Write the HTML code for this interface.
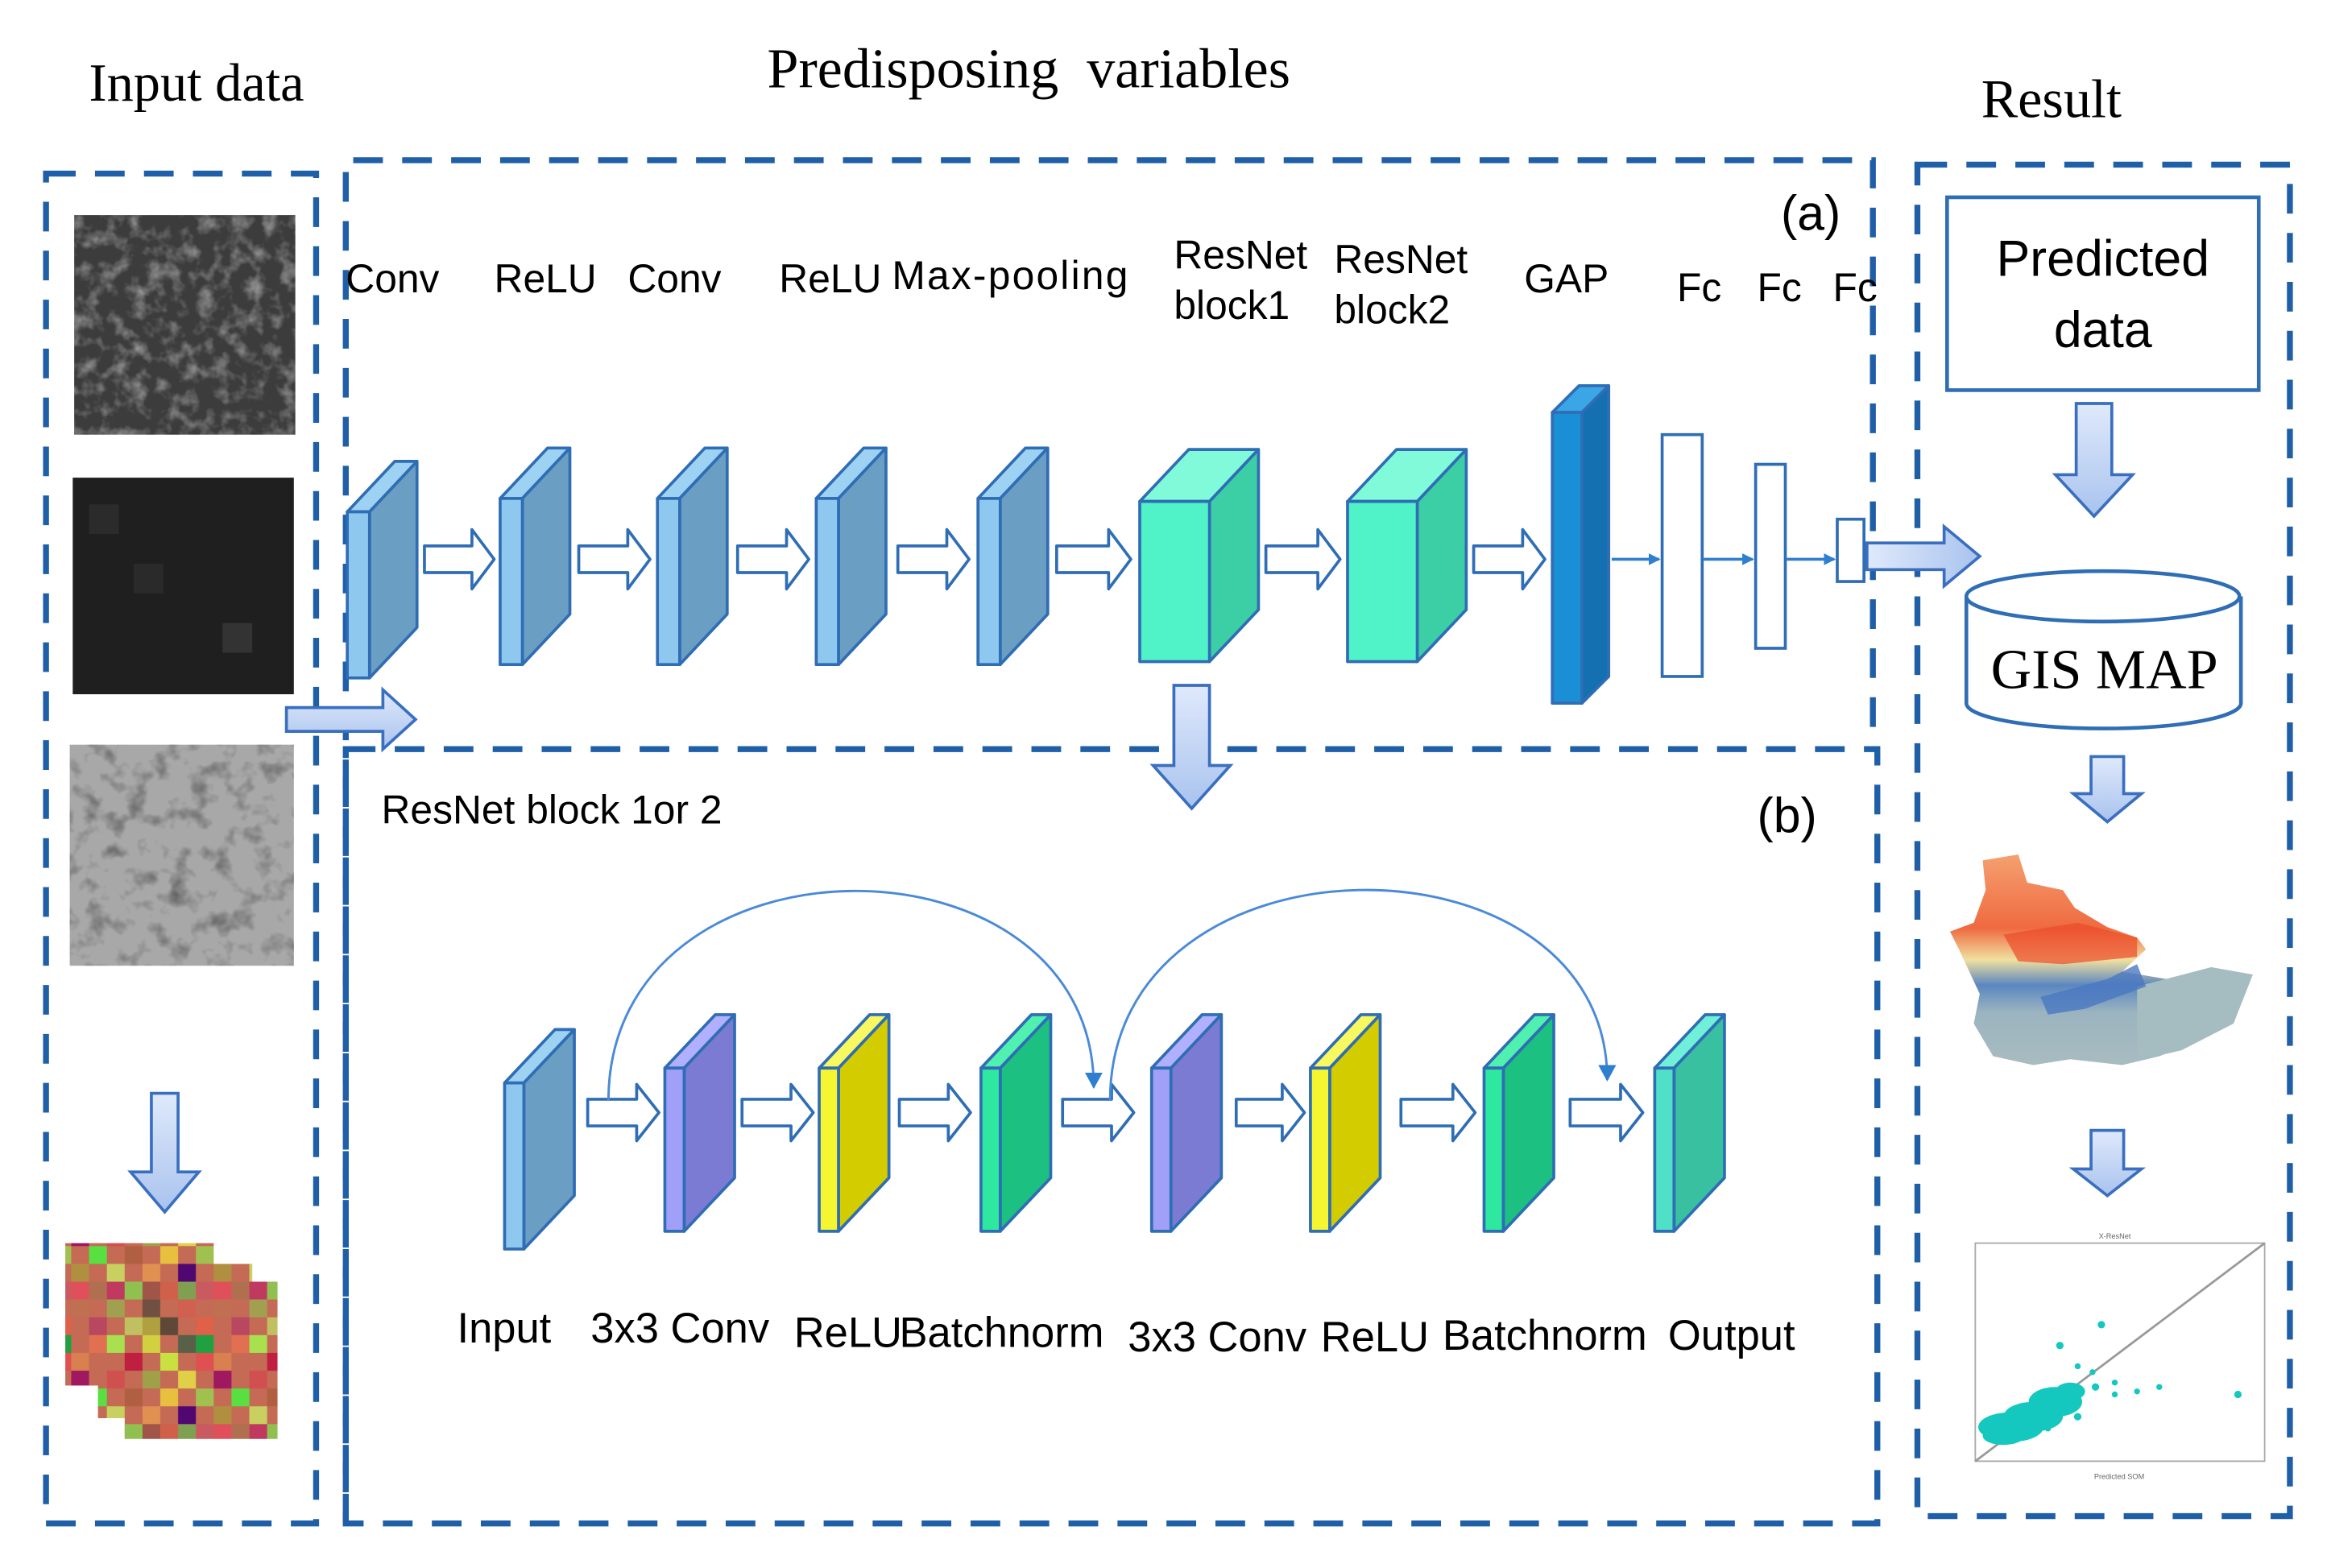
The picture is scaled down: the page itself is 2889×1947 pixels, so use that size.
<!DOCTYPE html>
<html><head><meta charset="utf-8"><style>html,body{margin:0;padding:0;background:#fff}svg{display:block}</style></head>
<body>
<svg width="2889" height="1947" viewBox="0 0 1568 1057" preserveAspectRatio="none" xmlns="http://www.w3.org/2000/svg">
<defs>
<linearGradient id="ba" x1="0" y1="0" x2="0" y2="1"><stop offset="0" stop-color="#dfe9fb"/><stop offset="1" stop-color="#a9c3ee"/></linearGradient>
<linearGradient id="bah" x1="0" y1="0" x2="1" y2="0"><stop offset="0" stop-color="#dfe9fb"/><stop offset="1" stop-color="#a9c3ee"/></linearGradient>
<filter id="n1" x="0" y="0" width="1" height="1"><feTurbulence type="fractalNoise" baseFrequency="0.09" numOctaves="3" seed="3"/><feColorMatrix type="matrix" values="0 0 0 0 1  0 0 0 0 1  0 0 0 0 1  1 0 0 0 -0.45"/></filter>
<filter id="n3" x="0" y="0" width="1" height="1"><feTurbulence type="fractalNoise" baseFrequency="0.07" numOctaves="3" seed="7"/><feColorMatrix type="matrix" values="0 0 0 0 0  0 0 0 0 0  0 0 0 0 0  1 0 0 0 -0.5"/></filter>
<pattern id="pix" width="96" height="96" patternUnits="userSpaceOnUse">
<rect width="96" height="96" fill="#c46a55"/>
<rect x="0" y="0" width="12" height="12" fill="#a05548"/><rect x="12" y="0" width="12" height="12" fill="#d0604a"/><rect x="24" y="0" width="12" height="12" fill="#7fa050"/><rect x="36" y="0" width="12" height="12" fill="#c85a60"/><rect x="48" y="0" width="12" height="12" fill="#e0505a"/><rect x="60" y="0" width="12" height="12" fill="#b07050"/><rect x="72" y="0" width="12" height="12" fill="#c03a60"/><rect x="84" y="0" width="12" height="12" fill="#90c050"/>
<rect x="0" y="12" width="12" height="12" fill="#705040"/><rect x="24" y="12" width="12" height="12" fill="#d06050"/><rect x="48" y="12" width="12" height="12" fill="#c07050"/><rect x="72" y="12" width="12" height="12" fill="#a0a050"/>
<rect x="0" y="24" width="12" height="12" fill="#b0a040"/><rect x="12" y="24" width="12" height="12" fill="#604838"/><rect x="36" y="24" width="12" height="12" fill="#e06048"/><rect x="60" y="24" width="12" height="12" fill="#b84860"/><rect x="84" y="24" width="12" height="12" fill="#c0c060"/>
<rect x="0" y="36" width="12" height="12" fill="#d0d040"/><rect x="24" y="36" width="12" height="12" fill="#586048"/><rect x="36" y="36" width="12" height="12" fill="#20a040"/><rect x="60" y="36" width="12" height="12" fill="#e07050"/><rect x="72" y="36" width="12" height="12" fill="#a8e050"/>
<rect x="12" y="48" width="12" height="12" fill="#c8e040"/><rect x="36" y="48" width="12" height="12" fill="#e05050"/><rect x="48" y="48" width="12" height="12" fill="#d88050"/><rect x="84" y="48" width="12" height="12" fill="#c02040"/>
<rect x="0" y="60" width="12" height="12" fill="#a0a048"/><rect x="24" y="60" width="12" height="12" fill="#e0d048"/><rect x="48" y="60" width="12" height="12" fill="#a01860"/><rect x="72" y="60" width="12" height="12" fill="#d05050"/>
<rect x="12" y="72" width="12" height="12" fill="#e8c040"/><rect x="36" y="72" width="12" height="12" fill="#a0c050"/><rect x="60" y="72" width="12" height="12" fill="#58e040"/><rect x="84" y="72" width="12" height="12" fill="#b06040"/>
<rect x="0" y="84" width="12" height="12" fill="#e09050"/><rect x="24" y="84" width="12" height="12" fill="#500870"/><rect x="48" y="84" width="12" height="12" fill="#b09040"/><rect x="72" y="84" width="12" height="12" fill="#c8d060"/>
</pattern>
<linearGradient id="mapg" x1="0" y1="0" x2="0" y2="1"><stop offset="0" stop-color="#f5a070"/><stop offset="0.35" stop-color="#ef6a40"/><stop offset="0.5" stop-color="#f0e0a0"/><stop offset="0.62" stop-color="#5b86c0"/><stop offset="0.75" stop-color="#9bb4c0"/><stop offset="1" stop-color="#a8bcc0"/></linearGradient>
<marker id="ah" markerWidth="8" markerHeight="8" refX="7" refY="4" orient="auto" markerUnits="userSpaceOnUse"><path d="M0,0 L8,4 L0,8 Z" fill="#2f7fd0"/></marker>
<marker id="ah2" markerWidth="12" markerHeight="12" refX="10" refY="6" orient="auto" markerUnits="userSpaceOnUse"><path d="M0,0 L11,6 L0,12 Z" fill="#2f7fd0"/></marker>
</defs>

<g font-family="Liberation Serif, serif" fill="#000">
<text x="60" y="68" font-size="36">Input data</text>
<text x="517" y="59" font-size="38" xml:space="preserve">Predisposing  variables</text>
<text x="1335" y="79" font-size="37">Result</text>
</g>

<g fill="none" stroke="#1f5fa8" stroke-width="4" stroke-dasharray="20 13">
<rect x="31" y="117" width="182" height="910"/>
<path d="M233 1027 V108 H1262 V505"/>
<rect x="233" y="505" width="1032" height="522"/>
<rect x="1292" y="111" width="251" height="911"/>
</g>

<rect x="50" y="145" width="149" height="148" fill="#3c3c3c"/>
<rect x="50" y="145" width="149" height="148" filter="url(#n1)"/>
<rect x="49" y="322" width="149" height="146" fill="#1f1f1f"/>
<rect x="90" y="380" width="20" height="20" fill="#2a2a2a"/><rect x="150" y="420" width="20" height="20" fill="#333"/><rect x="60" y="340" width="20" height="20" fill="#2b2b2b"/>
<rect x="47" y="502" width="151" height="149" fill="#a8a8a8"/>
<rect x="47" y="502" width="151" height="149" filter="url(#n3)"/>
<path d="M102 737 H120 V790 H134 L111 817 L88 790 H102 Z" fill="url(#ba)" stroke="#3a6fc0" stroke-width="2"/>
<rect x="44" y="838" width="100" height="96" fill="url(#pix)"/>
<rect x="66" y="852" width="104" height="104" fill="url(#pix)"/>
<rect x="84" y="864" width="103" height="106" fill="url(#pix)"/>
<path d="M193 477 H258 V465 L280 485 L258 505 V493 H193 Z" fill="url(#ba)" stroke="#3a6fc0" stroke-width="2"/>

<g font-family="Liberation Sans, sans-serif" font-size="27" fill="#000">
<text x="233" y="197">Conv</text>
<text x="333" y="197">ReLU</text>
<text x="423" y="197">Conv</text>
<text x="525" y="197">ReLU</text>
<text x="601" y="195" letter-spacing="1.2">Max-pooling</text>
<text x="791" y="181">ResNet</text><text x="791" y="215">block1</text>
<text x="899" y="184">ResNet</text><text x="899" y="218">block2</text>
<text x="1027" y="197">GAP</text>
<text x="1130" y="203">Fc</text><text x="1184" y="203">Fc</text><text x="1235" y="203">Fc</text>
<text x="1200" y="155" font-size="33">(a)</text>
<text x="257" y="555">ResNet block 1or 2</text>
<text x="1184" y="561" font-size="33">(b)</text>
</g>
<g font-family="Liberation Sans, sans-serif" font-size="28.5" fill="#000">
<text x="308" y="905">Input</text>
<text x="398" y="905">3x3 Conv</text>
<text x="535" y="908">ReLU</text>
<text x="606" y="908">Batchnorm</text>
<text x="760" y="911">3x3 Conv</text>
<text x="890" y="911">ReLU</text>
<text x="972" y="910">Batchnorm</text>
<text x="1124" y="910">Output</text>
</g>

<g stroke="#2f6db5" stroke-width="2" stroke-linejoin="round">
<g><polygon points="234,345 266,311 281,311 249,345" fill="#9ed2f2"/><polygon points="249,345 281,311 281,423 249,457" fill="#6a9ec2"/><rect x="234" y="345" width="15" height="112" fill="#8ec8ee"/></g>
<g><polygon points="337,336 369,302 384,302 352,336" fill="#9ed2f2"/><polygon points="352,336 384,302 384,414 352,448" fill="#6a9ec2"/><rect x="337" y="336" width="15" height="112" fill="#8ec8ee"/></g>
<g><polygon points="443,336 475,302 490,302 458,336" fill="#9ed2f2"/><polygon points="458,336 490,302 490,414 458,448" fill="#6a9ec2"/><rect x="443" y="336" width="15" height="112" fill="#8ec8ee"/></g>
<g><polygon points="550,336 582,302 597,302 565,336" fill="#9ed2f2"/><polygon points="565,336 597,302 597,414 565,448" fill="#6a9ec2"/><rect x="550" y="336" width="15" height="112" fill="#8ec8ee"/></g>
<g><polygon points="659,336 691,302 706,302 674,336" fill="#9ed2f2"/><polygon points="674,336 706,302 706,414 674,448" fill="#6a9ec2"/><rect x="659" y="336" width="15" height="112" fill="#8ec8ee"/></g>
<g><polygon points="768,338 801,303 848,303 815,338" fill="#80fad8"/><polygon points="815,338 848,303 848,411 815,446" fill="#3ccfa6"/><rect x="768" y="338" width="47" height="108" fill="#50f2c8"/></g>
<g><polygon points="908,338 941,303 988,303 955,338" fill="#80fad8"/><polygon points="955,338 988,303 988,411 955,446" fill="#3ccfa6"/><rect x="908" y="338" width="47" height="108" fill="#50f2c8"/></g>
<g><polygon points="1046,278 1064,260 1084,260 1066,278" fill="#3aa6e6"/><polygon points="1066,278 1084,260 1084,456 1066,474" fill="#1470b0"/><rect x="1046" y="278" width="20" height="196" fill="#1a8fd6"/></g>
</g>
<g fill="#fff" stroke="#2f6db5" stroke-width="2">
<rect x="1120" y="293" width="27" height="163"/>
<rect x="1183" y="313" width="20" height="124"/>
<rect x="1238" y="350" width="18" height="42"/>
</g>
<g stroke="#2f7fd0" stroke-width="2" marker-end="url(#ah)">
<line x1="1086" y1="377" x2="1118" y2="377"/>
<line x1="1148" y1="377" x2="1181" y2="377"/>
<line x1="1204" y1="377" x2="1236" y2="377"/>
</g>
<g fill="#fff" stroke="#2f6db5" stroke-width="2" stroke-linejoin="round">
<path d="M286 368 H318 V357 L333 377 L318 397 V386 H286 Z"/>
<path d="M390 368 H423 V357 L438 377 L423 397 V386 H390 Z"/>
<path d="M497 368 H530 V357 L545 377 L530 397 V386 H497 Z"/>
<path d="M605 368 H638 V357 L653 377 L638 397 V386 H605 Z"/>
<path d="M712 368 H747 V357 L762 377 L747 397 V386 H712 Z"/>
<path d="M853 368 H888 V357 L903 377 L888 397 V386 H853 Z"/>
<path d="M993 368 H1026 V357 L1041 377 L1026 397 V386 H993 Z"/>
<path d="M396 741 H429 V731 L444 750 L429 769 V759 H396 Z"/>
<path d="M500 741 H533 V731 L548 750 L533 769 V759 H500 Z"/>
<path d="M606 741 H639 V731 L654 750 L639 769 V759 H606 Z"/>
<path d="M716 741 H749 V731 L764 750 L749 769 V759 H716 Z"/>
<path d="M833 741 H864 V731 L879 750 L864 769 V759 H833 Z"/>
<path d="M944 741 H979 V731 L994 750 L979 769 V759 H944 Z"/>
<path d="M1058 741 H1092 V731 L1107 750 L1092 769 V759 H1058 Z"/>
</g>
<path d="M791 462 H815 V516 H829 L803 545 L777 516 H791 Z" fill="url(#ba)" stroke="#3a6fc0" stroke-width="2"/>
<path d="M1258 366 H1310 V355 L1334 375 L1310 395 V384 H1258 Z" fill="url(#bah)" stroke="#3a6fc0" stroke-width="2"/>

<g stroke="#2f6db5" stroke-width="2" stroke-linejoin="round">
<g><polygon points="340,730 374,694 387,694 353,730" fill="#9ed2f2"/><polygon points="353,730 387,694 387,806 353,842" fill="#6a9ec2"/><rect x="340" y="730" width="13" height="112" fill="#8ec8ee"/></g>
<g><polygon points="448,720 482,684 495,684 461,720" fill="#b0b0ff"/><polygon points="461,720 495,684 495,794 461,830" fill="#7b7bd4"/><rect x="448" y="720" width="13" height="110" fill="#a0a0f8"/></g>
<g><polygon points="552,720 586,684 599,684 565,720" fill="#f8f860"/><polygon points="565,720 599,684 599,794 565,830" fill="#d2cc00"/><rect x="552" y="720" width="13" height="110" fill="#f5f530"/></g>
<g><polygon points="661,720 695,684 708,684 674,720" fill="#50f0b0"/><polygon points="674,720 708,684 708,794 674,830" fill="#1cc080"/><rect x="661" y="720" width="13" height="110" fill="#2ee8a0"/></g>
<g><polygon points="776,720 810,684 823,684 789,720" fill="#b0b0ff"/><polygon points="789,720 823,684 823,794 789,830" fill="#7b7bd4"/><rect x="776" y="720" width="13" height="110" fill="#a0a0f8"/></g>
<g><polygon points="883,720 917,684 930,684 896,720" fill="#f8f860"/><polygon points="896,720 930,684 930,794 896,830" fill="#d2cc00"/><rect x="883" y="720" width="13" height="110" fill="#f5f530"/></g>
<g><polygon points="1000,720 1034,684 1047,684 1013,720" fill="#50f0b0"/><polygon points="1013,720 1047,684 1047,794 1013,830" fill="#1cc080"/><rect x="1000" y="720" width="13" height="110" fill="#2ee8a0"/></g>
<g><polygon points="1115,720 1149,684 1162,684 1128,720" fill="#70f0d8"/><polygon points="1128,720 1162,684 1162,794 1128,830" fill="#38c0a0"/><rect x="1115" y="720" width="13" height="110" fill="#50e0c8"/></g>
</g>
<g fill="none" stroke="#4a8ad8" stroke-width="1.6" marker-end="url(#ah2)">
<path d="M410 742 C410 555 737 555 737 733"/>
<path d="M748 742 C748 555 1083 555 1083 728"/>
</g>

<rect x="1312" y="133" width="210" height="130" fill="#fff" stroke="#2f6db5" stroke-width="2.5"/>
<g font-family="Liberation Sans, sans-serif" font-size="34" fill="#000" text-anchor="middle">
<text x="1417" y="186">Predicted</text><text x="1417" y="234">data</text>
</g>
<path d="M1399 272 H1423 V320 H1437 L1411 348 L1385 320 H1399 Z" fill="url(#ba)" stroke="#3a6fc0" stroke-width="2"/>
<path d="M1325 402 V474 A92 17 0 0 0 1510 474 V402" fill="#fff" stroke="#2f6db5" stroke-width="2.5"/>
<ellipse cx="1417" cy="402" rx="92" ry="17" fill="#fff" stroke="#2f6db5" stroke-width="2.5"/>
<text x="1418" y="464" font-family="Liberation Serif, serif" font-size="38" text-anchor="middle">GIS MAP</text>
<path d="M1409 510 H1431 V535 H1443 L1420 554 L1397 535 H1409 Z" fill="url(#ba)" stroke="#3a6fc0" stroke-width="2"/>
<path d="M1336 580 L1360 576 L1366 595 L1390 600 L1398 612 L1420 625 L1440 632 L1446 640 L1430 655 L1460 660 L1490 652 L1518 657 L1510 672 L1500 690 L1480 702 L1455 712 L1430 718 L1395 714 L1370 718 L1343 712 L1330 690 L1334 670 L1320 640 L1314 628 L1330 622 L1338 600 Z" fill="url(#mapg)"/>
<path d="M1440 665 L1490 652 L1518 657 L1505 690 L1470 708 L1440 715 Z" fill="#a5bcc0"/>
<path d="M1375 672 L1420 660 L1440 650 L1446 665 L1405 680 L1380 684 Z" fill="#4a78c0" opacity="0.8"/>
<path d="M1400 622 L1440 632 L1440 645 L1390 650 L1360 648 L1350 630 Z" fill="#ec4a2a" opacity="0.7"/>
<path d="M1409 762 H1431 V788 H1443 L1420 806 L1397 788 H1409 Z" fill="url(#ba)" stroke="#3a6fc0" stroke-width="2"/>
<rect x="1331" y="838" width="195" height="147" fill="#fff" stroke="#aaa" stroke-width="1"/>
<line x1="1331" y1="985" x2="1526" y2="838" stroke="#999" stroke-width="1.5"/>
<text x="1425" y="835" font-size="5" font-family="Liberation Sans, sans-serif" text-anchor="middle" fill="#666">X-ResNet</text>
<text x="1428" y="997" font-size="5" font-family="Liberation Sans, sans-serif" text-anchor="middle" fill="#666">Predicted SOM</text>
<g fill="#14c8c0">
<ellipse cx="1355" cy="962" rx="22" ry="10"/>
<ellipse cx="1370" cy="955" rx="20" ry="10"/>
<ellipse cx="1385" cy="945" rx="18" ry="10"/>
<ellipse cx="1350" cy="968" rx="14" ry="6"/>
<ellipse cx="1395" cy="938" rx="10" ry="6"/>
<circle cx="1416" cy="893" r="2.5"/><circle cx="1388" cy="907" r="2.5"/><circle cx="1400" cy="921" r="2"/>
<circle cx="1410" cy="925" r="2"/><circle cx="1412" cy="935" r="2.5"/><circle cx="1425" cy="932" r="2"/>
<circle cx="1440" cy="938" r="2"/><circle cx="1455" cy="935" r="2"/><circle cx="1425" cy="940" r="2"/>
<circle cx="1508" cy="940" r="2.5"/><circle cx="1400" cy="955" r="2.5"/><circle cx="1380" cy="963" r="2"/>
</g>
</svg>
</body></html>
